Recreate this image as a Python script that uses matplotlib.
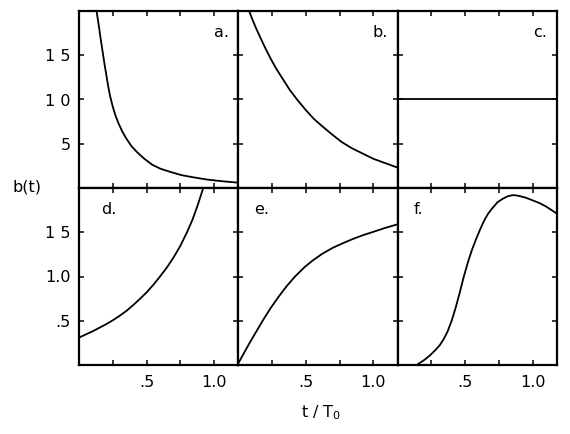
import matplotlib
matplotlib.use("Agg")
import matplotlib.pyplot as plt

# ---- data ----
t_a = [0.13, 0.14, 0.15, 0.16, 0.17, 0.18, 0.19, 0.20, 0.215, 0.23, 0.25, 0.27, 0.29, 0.32,
       0.35, 0.39, 0.43, 0.48, 0.54, 0.60, 0.68, 0.76, 0.85, 0.95, 1.05, 1.18]
b_a = [2.00, 1.90, 1.80, 1.69, 1.59, 1.49, 1.39, 1.30, 1.16, 1.04, 0.92, 0.82, 0.74, 0.64,
       0.56, 0.47, 0.405, 0.335, 0.265, 0.22, 0.18, 0.145, 0.12, 0.095, 0.078, 0.06]

t_b = [0.08, 0.10, 0.13, 0.16, 0.20, 0.24, 0.28, 0.33, 0.38, 0.44, 0.50, 0.56, 0.62, 0.69,
       0.765, 0.84, 0.92, 1.00, 1.09, 1.18]
b_b = [2.00, 1.92, 1.81, 1.71, 1.58, 1.46, 1.35, 1.23, 1.11, 0.99, 0.88, 0.78, 0.70, 0.61,
       0.52, 0.45, 0.39, 0.33, 0.28, 0.23]

t_c = [0.0, 1.18]
b_c = [1.0, 1.0]

t_d = [0.0, 0.05, 0.10, 0.15, 0.20, 0.25, 0.30, 0.35, 0.40, 0.45, 0.50, 0.55, 0.60, 0.65,
       0.70, 0.75, 0.80, 0.84, 0.88, 0.92]
b_d = [0.31, 0.345, 0.38, 0.42, 0.46, 0.505, 0.555, 0.61, 0.675, 0.745, 0.82, 0.905, 1.00,
       1.10, 1.215, 1.345, 1.50, 1.64, 1.81, 2.00]

t_e = [0.0, 0.04, 0.08, 0.13, 0.18, 0.24, 0.30, 0.36, 0.42, 0.49, 0.55, 0.62, 0.70, 0.78,
       0.85, 0.92, 1.00, 1.09, 1.18]
b_e = [0.02, 0.13, 0.24, 0.37, 0.50, 0.645, 0.775, 0.895, 1.00, 1.105, 1.18, 1.255, 1.325,
       1.38, 1.425, 1.465, 1.505, 1.55, 1.59]

t_f = [0.14, 0.17, 0.20, 0.24, 0.28, 0.31, 0.34, 0.37, 0.40, 0.43, 0.46, 0.49, 0.52, 0.55,
       0.58, 0.61, 0.64, 0.67, 0.70, 0.74, 0.78, 0.82, 0.86, 0.90, 0.95, 1.00, 1.05, 1.10, 1.18]
b_f = [0.00, 0.03, 0.06, 0.11, 0.17, 0.22, 0.29, 0.38, 0.50, 0.65, 0.82, 1.00, 1.16, 1.30,
       1.42, 1.53, 1.63, 1.71, 1.77, 1.84, 1.88, 1.91, 1.92, 1.91, 1.89, 1.86, 1.83, 1.79, 1.71]

panel_labels = ["a.", "b.", "c.", "d.", "e.", "f."]
x_ticks = [0.25, 0.5, 0.75, 1.0]
x_ticklabels = ["", ".5", "", "1.0"]
y_ticks = [0.5, 1.0, 1.5]
y_ticklabels_top = ["5", "1 0", "1 5"]
y_ticklabels_bottom = [".5", "1.0", "1 5"]

series = [(t_a, b_a), (t_b, b_b), (t_c, b_c), (t_d, b_d), (t_e, b_e), (t_f, b_f)]

plt.rcParams['font.family'] = ['DejaVu Sans']

fig, axes = plt.subplots(2, 3, figsize=(5.70, 4.34), dpi=100)
fig.subplots_adjust(left=79/570, right=557/570, top=1-11/434, bottom=1-365/434,
                    wspace=0, hspace=0)

for i, ax in enumerate(axes.flat):
    t, b = series[i]
    ax.plot(t, b, color='black', lw=1.3, solid_joinstyle='round')
    ax.set_xlim(0, 1.18)
    ax.set_ylim(0, 2.0)
    ax.set_xticks(x_ticks)
    ax.set_yticks(y_ticks)
    ax.tick_params(direction='in', length=3.8, width=1.1, top=True, right=True,
                   labelsize=11.5, pad=6, colors='black')
    for s in ax.spines.values():
        s.set_linewidth(1.6)
    row, col = divmod(i, 3)
    if row == 0:
        ax.text(0.94, 0.88, panel_labels[i], transform=ax.transAxes,
                ha='right', va='center', fontsize=11.5)
    elif col == 0:
        ax.text(0.14, 0.88, panel_labels[i], transform=ax.transAxes,
                ha='left', va='center', fontsize=11.5)
    else:
        ax.text(0.10, 0.88, panel_labels[i], transform=ax.transAxes,
                ha='left', va='center', fontsize=11.5)
    if col == 0:
        ax.set_yticklabels(y_ticklabels_top if row == 0 else y_ticklabels_bottom)
    else:
        ax.tick_params(labelleft=False)
    if row == 1:
        ax.set_xticklabels(x_ticklabels)
        ax.tick_params(axis='x', pad=7)
    else:
        ax.tick_params(labelbottom=False)

fig.text(27/570, 1-187/434, "b(t)", ha='center', va='center', fontsize=11.5)
fig.text(321/570, 1-413/434, r"t / T$_\mathregular{0}$", ha='center', va='center', fontsize=11.5)

fig.savefig("out.png", dpi=100)
